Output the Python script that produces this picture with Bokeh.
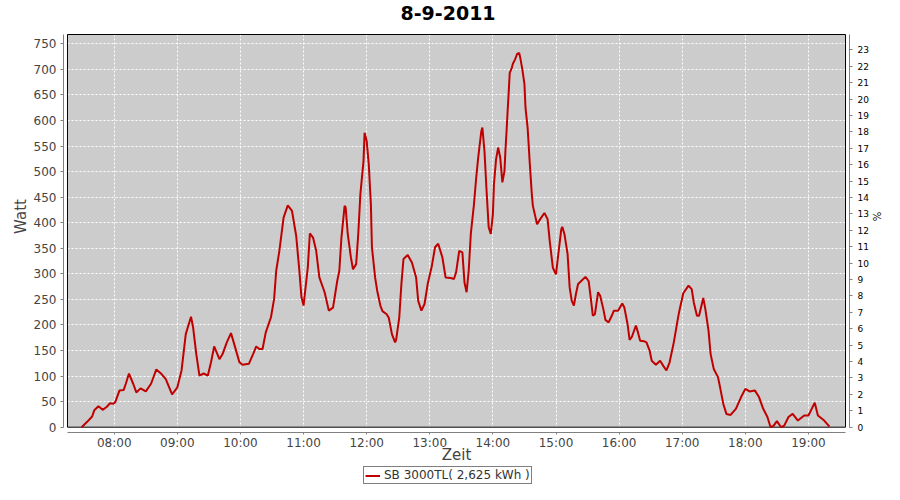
import pandas as pd
from bokeh.plotting import figure
from bokeh.layouts import column
from bokeh.models import (ColumnDataSource, Range1d, LinearAxis, FixedTicker,
                          DatetimeTickFormatter, Legend, LegendItem)
from bokeh.core.properties import value
from bokeh.embed import file_html
from bokeh.resources import INLINE

DAY = "2011-09-08"
title_text = "8-9-2011"
series_name = "SB 3000TL( 2,625 kWh )"
y_label = "Watt"
x_label = "Zeit"
pct_label = "%"

times = [
    "07:29", "07:34", "07:39", "07:41", "07:45", "07:49", "07:53", "07:56", "07:59",
    "08:01", "08:05", "08:09", "08:11", "08:14", "08:18", "08:21", "08:25", "08:30", "08:35", "08:40", "08:45", "08:49", "08:55",
    "09:00", "09:04", "09:08", "09:13", "09:15", "09:18", "09:21", "09:25", "09:29", "09:32", "09:35", "09:40", "09:43", "09:47", "09:51", "09:54", "09:59",
    "10:02", "10:08", "10:12", "10:15", "10:18", "10:21", "10:24", "10:29", "10:32", "10:34", "10:37", "10:41", "10:45", "10:49", "10:53", "10:56", "10:58",
    "11:00", "11:01", "11:04", "11:06", "11:09", "11:12", "11:15", "11:20", "11:24", "11:28", "11:32", "11:34", "11:36", "11:39", "11:40", "11:42", "11:45", "11:47", "11:50", "11:52", "11:54", "11:57", "11:58",
    "12:00", "12:02", "12:04", "12:05", "12:08", "12:10", "12:13", "12:15", "12:19", "12:21", "12:24", "12:27", "12:28", "12:31", "12:33", "12:35", "12:39", "12:43", "12:47", "12:49", "12:52", "12:55", "12:58",
    "13:02", "13:05", "13:08", "13:12", "13:15", "13:20", "13:23", "13:25", "13:28", "13:31", "13:33", "13:35", "13:37", "13:39", "13:42", "13:44", "13:46", "13:49", "13:50", "13:52", "13:54", "13:56", "13:58",
    "14:00", "14:01", "14:03", "14:05", "14:07", "14:09", "14:11", "14:12", "14:13", "14:14", "14:15", "14:16", "14:18", "14:19", "14:21", "14:23", "14:25", "14:26", "14:28", "14:30", "14:31", "14:33", "14:34", "14:35", "14:37", "14:38", "14:42", "14:45", "14:49", "14:52", "14:54", "14:57",
    "15:00", "15:02", "15:05", "15:06", "15:08", "15:11", "15:13", "15:15", "15:17", "15:19", "15:21", "15:24", "15:28", "15:31", "15:33", "15:35", "15:37", "15:40", "15:42", "15:45", "15:47", "15:50", "15:53", "15:55", "15:59",
    "16:03", "16:05", "16:08", "16:10", "16:12", "16:16", "16:18", "16:20", "16:24", "16:26", "16:29", "16:31", "16:35", "16:39", "16:42", "16:45", "16:48", "16:52", "16:55", "16:57",
    "17:01", "17:06", "17:09", "17:11", "17:14", "17:16", "17:19", "17:20", "17:22", "17:25", "17:27", "17:30", "17:34", "17:36", "17:39", "17:42", "17:46", "17:51", "17:56",
    "18:00", "18:04", "18:09", "18:13", "18:17", "18:21", "18:24", "18:27", "18:30", "18:34", "18:37", "18:41", "18:45", "18:50", "18:56",
    "19:00", "19:06", "19:09", "19:15", "19:20",
]

watts = [
    0, 10, 21, 33, 41, 34, 40, 47, 46,
    49, 72, 73, 85, 105, 85, 68, 76, 70, 85, 113, 104, 94, 64,
    78, 111, 182, 216, 195, 143, 101, 105, 101, 127, 158, 133, 143, 166, 184, 163, 127,
    122, 124, 143, 158, 153, 153, 185, 215, 251, 306, 345, 410, 434, 423, 374, 306, 254,
    238, 257, 312, 379, 371, 345, 293, 264, 228, 234, 286, 306, 371, 433, 430, 378, 332, 309, 319, 378, 456, 521, 576,
    560, 514, 436, 352, 293, 267, 238, 227, 221, 214, 182, 166, 171, 215, 280, 329, 337, 322, 293, 247, 228, 241, 280,
    316, 352, 359, 332, 293, 292, 290, 303, 345, 342, 283, 264, 306, 378, 436, 485, 527, 579, 586, 540, 462, 391, 378,
    417, 475, 524, 547, 527, 479, 501, 544, 579, 618, 654, 693, 703, 711, 719, 730, 732, 723, 700, 671, 625, 586, 553, 518, 456, 433, 397, 407, 419, 407, 365, 312,
    299, 335, 387, 392, 378, 339, 273, 247, 238, 261, 280, 286, 294, 286, 254, 218, 221, 264, 257, 231, 210, 205, 218, 228, 228,
    242, 234, 202, 171, 176, 199, 185, 169, 168, 166, 150, 130, 122, 130, 120, 111, 127, 166, 202, 225,
    262, 277, 270, 244, 218, 218, 244, 253, 231, 189, 143, 114, 98, 78, 46, 26, 24, 36, 59,
    75, 70, 72, 59, 36, 20, 0, 3, 12, 0, 3, 20, 26, 13, 23,
    23, 48, 23, 13, 1,
]
assert len(times) == len(watts)

x_tick_labels = ["08:00", "09:00", "10:00", "11:00", "12:00", "13:00",
                 "14:00", "15:00", "16:00", "17:00", "18:00", "19:00"]
y_ticks = list(range(0, 751, 50))
pct_ticks = list(range(0, 24))
PCT_RATIO = 32.1  # watts per percent unit on the right axis

# ---- layout geometry (canvas pixels) ----
W, H_MAIN, H_LEG = 884, 466, 18
FRAME_L, FRAME_R, FRAME_T, FRAME_B = 63, 853, 0, 432
AREA_L, AREA_R, AREA_T = 67, 849, 34
LEGEND_LEFT = 363
X8_PX, PX_PER_HOUR = 114.0, 63.43     # 08:00 position, pixels per hour
Y0_PX, PX_PER_WATT = 426.7, 0.5112    # 0 W position, pixels per watt

LINE_COLOR = "#c00000"
FONT = "DejaVu Sans"


def hours_at(px):
    return 8 + (px - X8_PX) / PX_PER_HOUR


def watts_at(py):
    return (Y0_PX - py) / PX_PER_WATT


def stamp(hhmm):
    return pd.Timestamp(f"{DAY} {hhmm}")


def at_hours(h):
    return pd.Timestamp(DAY) + pd.Timedelta(hours=h)


def ms(ts):
    return (ts - pd.Timestamp("1970-01-01")) / pd.Timedelta(milliseconds=1)


src = ColumnDataSource(dict(t=[stamp(s) for s in times], w=watts))

y_lo, y_hi = watts_at(FRAME_B), watts_at(FRAME_T)
area_top = watts_at(AREA_T)
x_lo, x_hi = at_hours(hours_at(FRAME_L)), at_hours(hours_at(FRAME_R))

p = figure(width=W, height=H_MAIN, x_axis_type="datetime",
           x_range=Range1d(x_lo, x_hi), y_range=Range1d(y_lo, y_hi),
           output_backend="svg", toolbar_location=None,
           min_border_left=FRAME_L, min_border_right=W - FRAME_R,
           min_border_top=FRAME_T, min_border_bottom=H_MAIN - FRAME_B,
           outline_line_color=None, background_fill_color="white",
           border_fill_color="white")

a_left, a_right = at_hours(hours_at(AREA_L)), at_hours(hours_at(AREA_R))
# gray plot area (under the grid)
p.quad(left=[a_left], right=[a_right], bottom=[0], top=[area_top],
       fill_color="#cccccc", line_color=None, level="image")
# black outline of the plot area
p.quad(left=[a_left], right=[a_right], bottom=[0], top=[area_top],
       fill_color=None, line_color="black", line_width=1)

r = p.line(x="t", y="w", source=src, line_color=LINE_COLOR, line_width=2)

# title
p.text(x=[at_hours(hours_at(449.5))], y=[watts_at(12.5)], text=[title_text],
       text_font=value(FONT), text_font_size=value("19px"), text_font_style="bold",
       text_color="black", text_align="center", text_baseline="alphabetic")

# grids
for g in (p.xgrid, p.ygrid):
    g.grid_line_color = "white"
    g.grid_line_dash = "2 2"
    g.grid_line_width = 1

# x axis
xa = p.xaxis[0]
xa.ticker = FixedTicker(ticks=[ms(stamp(s)) for s in x_tick_labels])
xa.formatter = DatetimeTickFormatter(hours="%H:%M", hourmin="%H:%M", minutes="%H:%M",
                                     minsec="%H:%M", days="%H:%M")
xa.bounds = (a_left, a_right)
xa.axis_label = x_label

# left axis
ya = p.yaxis[0]
ya.ticker = FixedTicker(ticks=y_ticks)
ya.bounds = (0, area_top)
ya.axis_label = y_label

for ax in (xa, ya):
    ax.axis_line_color = "#808080"
    ax.major_tick_line_color = "#808080"
    ax.minor_tick_line_color = None
    ax.major_tick_in = 0
    ax.major_label_text_font = FONT
    ax.major_label_text_font_size = "12px"
    ax.major_label_text_color = "#444444"
    ax.axis_label_text_font = FONT
    ax.axis_label_text_font_size = "15px"
    ax.axis_label_text_font_style = "normal"
    ax.axis_label_text_color = "#444444"

xa.major_tick_out = 2
xa.major_label_standoff = 1
xa.axis_label_standoff = -7
ya.major_tick_out = 3
ya.major_label_standoff = 4
ya.axis_label_standoff = 1

# right axis (%)
p.extra_y_ranges = {"pct": Range1d(y_lo / PCT_RATIO, y_hi / PCT_RATIO)}
ra = LinearAxis(y_range_name="pct", ticker=FixedTicker(ticks=pct_ticks),
                bounds=(0, area_top / PCT_RATIO), axis_label=pct_label)
ra.axis_line_color = "#808080"
ra.major_tick_line_color = "#808080"
ra.minor_tick_line_color = None
ra.major_tick_in = 0
ra.major_tick_out = 3
ra.major_label_standoff = 5
ra.major_label_text_font = FONT
ra.major_label_text_font_size = "9px"
ra.major_label_text_color = "#000000"
ra.axis_label_text_font = FONT
ra.axis_label_text_font_size = "10px"
ra.axis_label_text_font_style = "normal"
ra.axis_label_text_color = "#000000"
ra.axis_label_standoff = -1
p.add_layout(ra, "right")

# ---- legend strip below the chart (frame aligned with the chart's frame) ----
# same x range as the chart, y range above the data so the key series stays hidden
pl = figure(width=W, height=H_LEG, x_axis_type="datetime",
            x_range=Range1d(x_lo, x_hi), y_range=Range1d(y_hi + 100, y_hi + 200),
            output_backend="svg", toolbar_location=None, min_border=0,
            x_axis_location=None, y_axis_location=None, outline_line_color=None,
            background_fill_color="white", border_fill_color="white")
pl.xgrid.visible = False
pl.ygrid.visible = False
key = pl.line(x="t", y="w", source=src, line_color=LINE_COLOR, line_width=2)

legend = Legend(items=[LegendItem(label=series_name, renderers=[key])],
                location=(LEGEND_LEFT - FRAME_L, 0), orientation="horizontal",
                border_line_color="black", border_line_width=1,
                background_fill_color="white", background_fill_alpha=1,
                label_text_font=FONT, label_text_font_size="12px",
                label_text_color="#333333", glyph_width=15, glyph_height=13,
                label_height=13, label_standoff=4, padding=1, margin=0, spacing=0)
pl.add_layout(legend)

layout = column(p, pl, spacing=0)
open("out.html", "w").write(file_html(layout, INLINE))
